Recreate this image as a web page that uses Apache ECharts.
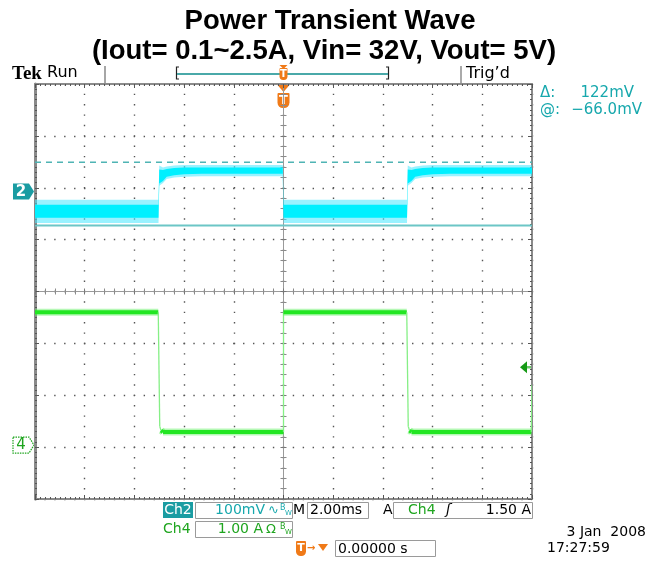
<!DOCTYPE html>
<html><head><meta charset="utf-8">
<script src="https://cdn.jsdelivr.net/npm/echarts@6/dist/echarts.min.js"></script>
<style>html,body{margin:0;padding:0;background:#fff}#c{width:658px;height:561px}</style>
</head><body><div id="c"></div>
<script>
// ---------------- data ----------------
const titleLine1 = 'Power Transient Wave';
const titleLine2 = '(Iout= 0.1~2.5A, Vin= 32V, Vout= 5V)';

// horizontal: 2.00 ms/div, 10 divisions, trigger at centre
const timeMin = -10, timeMax = 10, timePerDiv = 2;
// vertical graticule: 8 divisions
const divMin = -4, divMax = 4;

// Ch2 (100 mV/div, AC) axis range in mV relative to its ground marker
const ch2Min = -593, ch2Max = 207;
// Ch4 (1.00 A/div) axis range in A relative to its ground marker
const ch4Min = -1.04, ch4Max = 6.96;

// Ch2 noisy band envelope (mV)
const ch2Time    = [-10, -5.03, -5.0, -4.85, -4.7, -4.4, -4.0, -3.3, -0.03, 0, 4.97, 5.0, 5.15, 5.3, 5.6, 6.0, 6.7, 10];
const ch2OuterHi = [-16, -16,   50,   46,    48,   50,   51,   51,   51,  -16, -16,  50,  46,   48,  50,  51,  51,  51];
const ch2OuterLo = [-61, -61,   11,   16,    24,   27,   28,   29,   29,  -61, -61,  11,  16,   24,  27,  28,  29,  29];
const ch2CoreHi  = [-26, -26,   42,   41,    43,   45,   46,   46,   46,  -26, -26,  42,  41,   43,  45,  46,  46,  46];
const ch2CoreLo  = [-51, -51,   15,   20,    28,   31,   33,   34,   34,  -51, -51,  15,  20,   28,  31,  33,  34,  34];

// Ch4 load current (A)
const ch4Time  = [-10, -5.04, -4.98, -4.93, -4.85, 0,    0,    4.96, 5.02, 5.07, 5.15, 9.97, 10];
const ch4Value = [2.56, 2.56, 0.36,  0.28,  0.25,  0.25, 2.56, 2.56, 0.36, 0.28, 0.25, 0.25, 1.16];

// cursors (Ch2): @ = -66.0 mV, delta = 122 mV
const cursorAt = -66.0, cursorDelta = 122;
const trigLevel = 1.50; // Ch4 trigger level (A)

// readouts
const readDelta = '122mV', readAt = '\u221266.0mV';
const ch2Scale = '100mV', ch4Scale = '1.00 A', timeScale = '2.00ms', trigReadout = '1.50 A';
const trigPos = '0.00000 s', dateText = '3 Jan  2008', timeText = '17:27:59';

// ---------------- chart ----------------
const chart = echarts.init(document.getElementById('c'), null, {renderer: 'canvas'});
const GRID = '#8a8a8a', DOT = '#555';
const TEAL = '#1a9ca2', CYANTXT = '#17a8ad', GREEN = '#1fa51f', ORANGE = '#f07a18';

function edgeX(pos, split) {
  return {
    type: 'value', min: timeMin, max: timeMax, interval: timePerDiv, position: pos,
    axisLine: {show: true, onZero: false, lineStyle: {color: GRID, width: 2}},
    axisTick: {show: true, inside: true, length: 4, lineStyle: {color: DOT}},
    minorTick: {show: true, splitNumber: 10, length: 2, lineStyle: {color: DOT}},
    axisLabel: {show: false},
    splitLine: split ? {show: true, lineStyle: {color: DOT, width: 1.4, type: [1.4, 8.98], dashOffset: 0.7}} : {show: false},
    minorSplitLine: {show: false}
  };
}
function centreX(inside) {
  return {
    type: 'value', min: timeMin, max: timeMax, interval: timePerDiv,
    axisLine: {show: true, onZero: true, onZeroAxisIndex: 2, lineStyle: {color: '#9a9a9a', width: 1}},
    axisTick: {show: true, inside: inside, length: 3, lineStyle: {color: '#777'}},
    minorTick: {show: true, splitNumber: 5, length: 3, lineStyle: {color: '#8a8a8a'}},
    axisLabel: {show: false}, splitLine: {show: false}
  };
}
function edgeY(pos, split, w) {
  return {
    type: 'value', min: divMin, max: divMax, interval: 1, position: pos,
    axisLine: {show: true, onZero: false, lineStyle: {color: GRID, width: w}},
    axisTick: {show: true, inside: true, length: 4, lineStyle: {color: DOT}},
    minorTick: {show: true, splitNumber: 10, length: 2, lineStyle: {color: DOT}},
    axisLabel: {show: false},
    splitLine: split ? {show: true, lineStyle: {color: DOT, width: 1.4, type: [1.4, 8.54], dashOffset: 0.7}} : {show: false}
  };
}
function centreY(inside) {
  return {
    type: 'value', min: divMin, max: divMax, interval: 1,
    axisLine: {show: true, onZero: true, onZeroAxisIndex: 0, lineStyle: {color: '#9a9a9a', width: 1}},
    axisTick: {show: true, inside: inside, length: 3, lineStyle: {color: '#777'}},
    minorTick: {show: true, splitNumber: 5, length: 3, lineStyle: {color: '#8a8a8a'}},
    axisLabel: {show: false}, splitLine: {show: false}
  };
}

const ch4Segments = [];
for (let i = 0; i < ch4Time.length - 1; i++) {
  ch4Segments.push([ch4Time[i], ch4Value[i], ch4Time[i + 1], ch4Value[i + 1]]);
}

function bandPoints(api, hi, lo) {
  const pts = [];
  for (let i = 0; i < ch2Time.length; i++) pts.push(api.coord([ch2Time[i], hi[i]]));
  for (let i = ch2Time.length - 1; i >= 0; i--) pts.push(api.coord([ch2Time[i], lo[i]]));
  return pts;
}

const option = {
  animation: false,
  backgroundColor: '#ffffff',
  grid: {left: 35, top: 84, width: 497, height: 415, show: false},
  xAxis: [edgeX('bottom', true), edgeX('top', false), centreX(true), centreX(false)],
  yAxis: [
    {type: 'value', min: ch2Min, max: ch2Max, show: false, axisLine: {onZero: false}, splitLine: {show: false}},
    {type: 'value', min: ch4Min, max: ch4Max, show: false, axisLine: {onZero: false}, splitLine: {show: false}},
    edgeY('left', true, 3), edgeY('right', false, 2), centreY(true), centreY(false)
  ],
  series: [
    { // Ch2 noisy band
      type: 'custom', name: 'Ch2', xAxisIndex: 0, yAxisIndex: 0, clip: true, silent: true,
      data: [[0, 0]],
      renderItem: function (params, api) {
        return {type: 'group', children: [
          {type: 'polygon', shape: {points: bandPoints(api, ch2OuterHi, ch2OuterLo)}, style: {fill: 'rgba(70,232,255,0.55)'}},
          {type: 'polygon', shape: {points: bandPoints(api, ch2CoreHi, ch2CoreLo)}, style: {fill: '#00f0ff'}}
        ]};
      }
    },
    { // cursor @
      type: 'line', xAxisIndex: 0, yAxisIndex: 0, silent: true, symbol: 'none',
      data: [[timeMin, cursorAt], [timeMax, cursorAt]],
      lineStyle: {color: '#6cc6c6', width: 2}
    },
    { // cursor @ + delta (dashed)
      type: 'line', xAxisIndex: 0, yAxisIndex: 0, silent: true, symbol: 'none',
      data: [[timeMin, cursorAt + cursorDelta], [timeMax, cursorAt + cursorDelta]],
      lineStyle: {color: '#4fb4b4', width: 1.5, type: [6, 5]}
    },
    { // Ch4 current
      type: 'custom', name: 'Ch4', xAxisIndex: 0, yAxisIndex: 1, clip: true, silent: true,
      encode: {x: [0, 2], y: [1, 3]},
      data: ch4Segments,
      renderItem: function (params, api) {
        const p0 = api.coord([api.value(0), api.value(1)]);
        const p1 = api.coord([api.value(2), api.value(3)]);
        const flat = Math.abs(p1[1] - p0[1]) < Math.abs(p1[0] - p0[0]);
        if (flat) {
          return {type: 'group', children: [
            {type: 'line', shape: {x1: p0[0], y1: p0[1], x2: p1[0], y2: p1[1]}, style: {stroke: 'rgba(90,240,90,0.45)', lineWidth: 7}},
            {type: 'line', shape: {x1: p0[0], y1: p0[1], x2: p1[0], y2: p1[1]}, style: {stroke: '#22e622', lineWidth: 4}}
          ]};
        }
        return {type: 'line', shape: {x1: p0[0], y1: p0[1], x2: p1[0], y2: p1[1]}, style: {stroke: '#86ef86', lineWidth: 1.3}};
      }
    }
  ]
};
chart.setOption(option);

// ---------------- annotations ----------------
const F = '"DejaVu Sans", sans-serif';
const g0 = chart.convertToPixel({seriesIndex: 0}, [timeMin, 0]);   // Ch2 ground
const g4 = chart.convertToPixel({seriesIndex: 3}, [timeMin, 0]);   // Ch4 ground
const trg = chart.convertToPixel({seriesIndex: 3}, [timeMax, trigLevel]);
const t0 = chart.convertToPixel({seriesIndex: 0}, [0, 0])[0];      // trigger time
const gridTop = 84;

function txt(text, x, y, font, fill, align) {
  return {type: 'text', silent: true, style: {text: text, x: x, y: y, font: font, fill: fill || '#000', textAlign: align || 'left', textVerticalAlign: 'middle'}};
}
function boxR(x, y, w, h) {
  return {type: 'rect', silent: true, shape: {x: x, y: y, width: w, height: h}, style: {fill: 'none', stroke: '#9a9a9a', lineWidth: 1}};
}
function tMarker(cx, yTop, w, h, fs) {
  return [
    {type: 'rect', silent: true, shape: {x: cx - w / 2, y: yTop, width: w, height: h, r: [1, 1, w / 2.2, w / 2.2]}, style: {fill: ORANGE}},
    txt('T', cx, yTop + h / 2, 'bold ' + fs + 'px ' + F, '#fff', 'center')
  ];
}

const TF = 'bold 27.5px "Liberation Sans", Arial, sans-serif';
const els = [
  txt(titleLine1, 330, 21, TF, '#000', 'center'),
  txt(titleLine2, 324, 51, TF, '#000', 'center'),
  txt('Tek', 12, 74, 'bold 19px "Liberation Serif", serif', '#000'),
  txt('Run', 47, 73, '16px ' + F, '#000'),
  {type: 'line', silent: true, shape: {x1: 105, y1: 66, x2: 105, y2: 84}, style: {stroke: '#888', lineWidth: 1.5}},
  {type: 'line', silent: true, shape: {x1: 461, y1: 66, x2: 461, y2: 84}, style: {stroke: '#aaa', lineWidth: 2}},
  txt('Trig\u2019d', 466, 74, '16px ' + F, '#000'),
  // record bracket
  {type: 'polyline', silent: true, shape: {points: [[179, 67], [176.5, 67], [176.5, 79], [179, 79]]}, style: {stroke: '#222', lineWidth: 1.2, fill: 'none'}},
  {type: 'polyline', silent: true, shape: {points: [[386, 67], [388.5, 67], [388.5, 79], [386, 79]]}, style: {stroke: '#222', lineWidth: 1.2, fill: 'none'}},
  {type: 'line', silent: true, shape: {x1: 177, y1: 74, x2: 388, y2: 74}, style: {stroke: '#4aa9a9', lineWidth: 2}},
  // trigger markers
  {type: 'polygon', silent: true, shape: {points: [[t0 - 4, 65], [t0 + 4, 65], [t0, 69]]}, style: {fill: ORANGE}},
  ...tMarker(t0, 68, 8, 12, 10),
  {type: 'polygon', silent: true, shape: {points: [[t0 - 6, gridTop + 1], [t0 + 6, gridTop + 1], [t0, gridTop + 8]]}, style: {fill: ORANGE}},
  ...tMarker(t0, gridTop + 9, 12, 15, 13),
  // cursor readouts
  txt('\u0394:', 540, 93, '15px ' + F, CYANTXT),
  txt(readDelta, 634, 93, '15px ' + F, CYANTXT, 'right'),
  txt('@:', 540, 110, '15px ' + F, CYANTXT),
  txt(readAt, 642, 110, '15px ' + F, CYANTXT, 'right'),
  // Ch2 ground marker
  {type: 'polygon', silent: true, shape: {points: [[13, g0[1] - 8], [29, g0[1] - 8], [34, g0[1]], [29, g0[1] + 8], [13, g0[1] + 8]]}, style: {fill: TEAL}},
  txt('2', 21, g0[1] + 0.5, 'bold 15px ' + F, '#fff', 'center'),
  // Ch4 ground marker
  {type: 'polygon', silent: true, shape: {points: [[13, g4[1] - 8], [29, g4[1] - 8], [34, g4[1]], [29, g4[1] + 8], [13, g4[1] + 8]]}, style: {fill: '#fff', stroke: GREEN, lineWidth: 1.2, lineDash: [1.5, 1]}},
  txt('4', 21, g4[1] + 0.5, '15px ' + F, GREEN, 'center'),
  // Ch4 trigger level arrow
  {type: 'polygon', silent: true, shape: {points: [[trg[0] - 12, trg[1]], [trg[0] - 5, trg[1] - 6], [trg[0] - 5, trg[1] + 6]]}, style: {fill: '#169a16'}},
  {type: 'line', silent: true, shape: {x1: trg[0] - 5, y1: trg[1], x2: trg[0], y2: trg[1]}, style: {stroke: '#6ccc6c', lineWidth: 2.5}},
  // bottom readouts, row 1
  {type: 'rect', silent: true, shape: {x: 163, y: 502, width: 30, height: 16}, style: {fill: TEAL}},
  txt('Ch2', 178, 510.5, '14px ' + F, '#fff', 'center'),
  boxR(195.5, 502.5, 97, 16),
  txt(ch2Scale, 265, 510.5, '14px ' + F, CYANTXT, 'right'),
  txt('\u223F', 268, 510.5, '13px ' + F, CYANTXT),
  txt('B', 280, 508, '8px ' + F, CYANTXT),
  txt('W', 285, 513, '7px ' + F, CYANTXT),
  txt('M', 293, 510.5, '14px ' + F, '#000'),
  boxR(307.5, 502.5, 61, 16),
  txt(timeScale, 310, 510.5, '14px ' + F, '#000'),
  txt('A', 383, 510.5, '14px ' + F, '#000'),
  boxR(393.5, 502.5, 139, 16),
  txt('Ch4', 408, 510.5, '14px ' + F, GREEN),
  txt('\u0283', 446, 510.5, 'italic 14px ' + F, '#000'),
  txt(trigReadout, 531, 510.5, '14px ' + F, '#000', 'right'),
  // row 2
  txt('Ch4', 163, 529.5, '14px ' + F, GREEN),
  boxR(195.5, 521.5, 97, 16),
  txt(ch4Scale, 263, 529.5, '14px ' + F, GREEN, 'right'),
  txt('\u03A9', 266, 529.5, '13px ' + F, GREEN),
  txt('B', 280, 527, '8px ' + F, GREEN),
  txt('W', 285, 532, '7px ' + F, GREEN),
  // row 3
  ...tMarker(301, 541, 10, 15, 11),
  txt('\u2192', 307, 548, 'bold 10px ' + F, ORANGE),
  {type: 'polygon', silent: true, shape: {points: [[318, 544], [328, 544], [323, 551]]}, style: {fill: ORANGE}},
  boxR(335.5, 540.5, 100, 16),
  txt(trigPos, 338, 549, '14px ' + F, '#000'),
  // date / time
  txt(dateText, 646, 532, '14px ' + F, '#000', 'right'),
  txt(timeText, 547, 548, '14px ' + F, '#000')
];
chart.setOption({graphic: {elements: els}});
</script>
</body></html>
